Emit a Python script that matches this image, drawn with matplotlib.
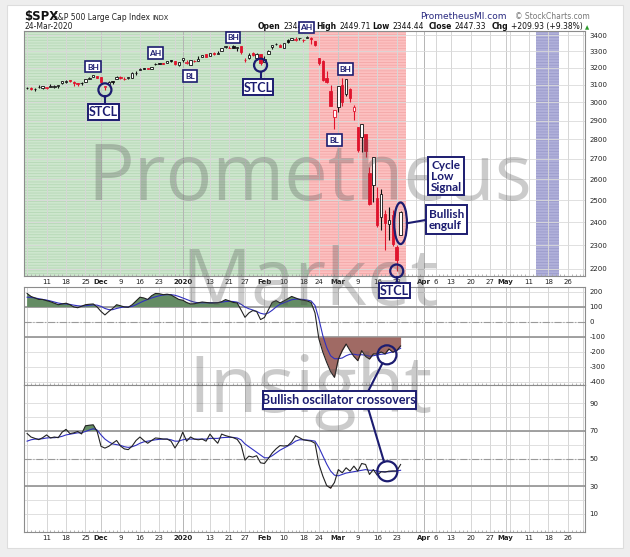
import matplotlib
matplotlib.use("Agg")
import matplotlib.pyplot as plt
import numpy as np
import pandas as pd
from matplotlib.patches import Rectangle, Ellipse
from matplotlib.ticker import NullLocator

# ---------------- data ----------------
holidays = ['2019-11-28', '2019-12-25', '2020-01-01', '2020-01-20',
            '2020-02-17', '2020-04-10', '2020-05-25']
first_day = '2019-11-04'
prev_close0 = 3066.91

opens = [3078.96, 3080.80, 3075.10, 3087.02, 3081.25,
         3080.33, 3089.28, 3084.18, 3090.75, 3107.92,
         3117.91, 3127.45, 3114.66, 3108.49, 3111.41,
         3117.44, 3134.85, 3145.49, 3147.18,
         3143.85, 3087.41, 3103.50, 3119.21, 3134.62,
         3141.86, 3135.36, 3135.75, 3141.23, 3166.65,
         3183.63, 3195.40, 3195.21, 3192.32, 3223.33,
         3226.05, 3225.45, 3227.20, 3247.23,
         3240.09, 3215.18, 3244.67, 3226.36,
         3217.55, 3241.86, 3238.59, 3266.03, 3281.81,
         3271.13, 3285.35, 3282.27, 3302.97, 3323.66,
         3321.03, 3330.02, 3315.77, 3333.10,
         3247.16, 3255.35, 3289.46, 3256.45, 3282.33,
         3235.66, 3280.61, 3324.91, 3344.92, 3335.54,
         3318.28, 3365.87, 3370.50, 3365.90, 3378.08,
         3369.04, 3380.39, 3380.45, 3360.50,
         3257.61, 3238.94, 3139.90, 3062.54, 2916.90,
         2974.28, 3096.46, 3045.75, 3075.70, 2954.20,
         2863.89, 2813.48, 2825.60, 2630.86, 2569.99,
         2508.59, 2425.66, 2436.50, 2393.48, 2431.94,
         2290.71, 2344.44]
highs = [3085.20, 3083.95, 3078.34, 3097.77, 3093.09,
         3088.33, 3102.61, 3098.06, 3098.20, 3120.46,
         3124.17, 3127.64, 3118.97, 3110.11, 3112.87,
         3133.83, 3142.69, 3154.26, 3150.30,
         3144.31, 3094.97, 3119.38, 3119.45, 3150.60,
         3148.87, 3142.12, 3143.98, 3176.28, 3182.68,
         3197.71, 3198.22, 3198.48, 3205.48, 3225.65,
         3227.78, 3226.43, 3240.08, 3247.93,
         3240.92, 3231.72, 3258.14, 3246.15,
         3246.84, 3244.91, 3267.07, 3275.58, 3282.99,
         3288.13, 3294.25, 3298.66, 3317.11, 3329.88,
         3329.79, 3337.77, 3326.88, 3333.18,
         3258.85, 3285.78, 3293.47, 3285.91, 3282.33,
         3268.44, 3306.92, 3337.58, 3347.96, 3341.42,
         3352.26, 3375.63, 3381.47, 3385.09, 3380.69,
         3375.01, 3393.52, 3389.15, 3360.76,
         3259.81, 3246.99, 3182.51, 3097.07, 2959.72,
         3090.96, 3136.72, 3130.97, 3083.04, 2985.93,
         2863.89, 2882.59, 2825.60, 2660.95, 2711.33,
         2562.98, 2553.93, 2453.57, 2466.97, 2453.01,
         2300.73, 2449.71]
lows = [3074.87, 3072.15, 3065.89, 3080.23, 3073.58,
        3075.82, 3084.73, 3078.80, 3083.26, 3104.60,
        3112.06, 3113.47, 3091.41, 3094.55, 3099.26,
        3117.44, 3131.00, 3143.41, 3139.34,
        3110.78, 3070.33, 3102.53, 3103.76, 3134.62,
        3135.46, 3126.09, 3133.21, 3138.47, 3156.51,
        3183.63, 3191.03, 3191.14, 3192.32, 3216.03,
        3222.30, 3220.51, 3227.20, 3234.37,
        3216.57, 3212.03, 3235.53, 3222.34,
        3214.64, 3232.43, 3236.67, 3263.67, 3260.86,
        3268.43, 3277.19, 3280.69, 3302.82, 3318.86,
        3316.61, 3320.04, 3301.87, 3281.53,
        3234.50, 3253.22, 3271.89, 3242.80, 3214.68,
        3235.66, 3280.61, 3313.75, 3334.39, 3322.12,
        3317.77, 3352.72, 3369.72, 3360.52, 3366.15,
        3355.61, 3378.83, 3341.02, 3328.45,
        3214.65, 3118.77, 3108.99, 2977.39, 2855.84,
        2945.19, 2976.63, 3034.38, 2999.83, 2901.54,
        2734.43, 2734.00, 2707.22, 2478.86, 2492.37,
        2380.94, 2367.04, 2280.52, 2319.78, 2295.56,
        2191.86, 2344.44]
closes = [3078.27, 3074.62, 3076.78, 3085.18, 3093.08,
          3087.01, 3091.84, 3094.04, 3096.63, 3120.46,
          3122.03, 3120.18, 3108.46, 3103.54, 3110.29,
          3133.64, 3140.52, 3153.63, 3140.98,
          3113.87, 3093.20, 3112.76, 3117.43, 3145.91,
          3135.96, 3132.52, 3141.63, 3168.57, 3168.80,
          3191.45, 3192.52, 3191.14, 3205.37, 3221.22,
          3224.01, 3223.38, 3239.91, 3240.02,
          3221.29, 3230.78, 3257.85, 3234.85,
          3246.28, 3237.18, 3253.05, 3274.70, 3265.35,
          3288.13, 3283.15, 3289.29, 3316.81, 3329.62,
          3320.79, 3321.75, 3325.54, 3295.47,
          3243.63, 3276.24, 3273.40, 3283.66, 3225.52,
          3248.92, 3297.59, 3334.69, 3345.78, 3327.71,
          3352.09, 3357.75, 3379.45, 3373.94, 3380.16,
          3370.29, 3386.15, 3373.23, 3337.75,
          3225.89, 3128.21, 3116.39, 2978.76, 2954.22,
          3090.23, 3003.37, 3130.12, 3023.94, 2972.37,
          2746.56, 2882.23, 2741.38, 2480.64, 2711.02,
          2386.13, 2529.19, 2398.10, 2409.39, 2304.92,
          2237.40, 2447.33]

cci = [190, 170, 160, 150, 150, 142, 135, 125, 115, 120,
       125, 115, 100, 95, 105, 115, 118, 120, 100, 70,
       47, 70, 90, 115, 108, 100, 98, 115, 140, 165,
       160, 150, 175, 190, 188, 182, 185, 180, 165, 150,
       145, 130, 120, 122, 128, 133, 130, 127, 127, 128,
       135, 149, 140, 130, 127, 80, 31, 60, 76, 70,
       16, 30, 80, 131, 142, 127, 140, 155, 170, 160,
       150, 145, 140, 130, 60, -113, -200, -269, -330, -369,
       -247, -190, -147, -191, -230, -258, -191, -230, -247, -213,
       -213, -200, -213, -180, -202, -190, -160]
cci_sig = [165, 164, 160, 155, 150, 146, 140, 133, 126, 122,
           120, 117, 112, 108, 106, 108, 111, 114, 112, 104,
           90, 82, 82, 90, 96, 100, 100, 104, 115, 128,
           140, 150, 160, 168, 175, 180, 182, 182, 178, 170,
           160, 150, 140, 132, 128, 128, 128, 128, 128, 129,
           132, 136, 138, 136, 132, 118, 100, 88, 80, 70,
           58, 52, 60, 78, 100, 118, 128, 138, 148, 152,
           152, 150, 146, 140, 110, 20, -90, -170, -225, -245,
           -245, -240, -225, -215, -215, -220, -218, -222, -228, -225,
           -220, -215, -213, -205, -200, -190, -175]

rsi = [68, 65.5, 64.5, 63.6, 65, 67, 64.8, 65.5, 65, 69,
       71, 68, 68.5, 69.5, 67.7, 73.6, 74, 74.3, 69.5, 58.8,
       57.5, 58.8, 61, 63, 59, 56.9, 56.4, 59, 63, 65.5,
       63, 61, 63, 64.8, 64.5, 64, 64, 62.5, 57.6, 62,
       69, 62.5, 65.5, 64, 63.5, 64, 62.5, 67.6, 64, 61,
       67.6, 66.5, 65.7, 65, 63.8, 59.8, 48.8, 51.7, 51, 52,
       46.9, 46.4, 50, 54, 57, 59.3, 59, 59.3, 62, 66.4,
       65, 63.5, 63, 62.5, 61, 46, 37.4, 30.5, 28.6, 32.7,
       42, 39.7, 43.3, 40.9, 44.5, 40.9, 46.4, 45.7, 38.5, 42,
       37.9, 40.5, 40.2, 40.9, 41, 40.9, 45.7]
rsi_sig = [62.5, 63.5, 64, 64, 64.3, 64.8, 65, 65, 65.3, 66,
           67, 67.5, 68, 68.5, 68.5, 69.5, 70.5, 71.5, 70.5, 67,
           64, 62, 60.5, 60, 59.5, 58.5, 58, 58.5, 59.5, 61,
           62, 62.5, 63, 63.5, 63.8, 64, 64, 63.5, 62.5, 62.5,
           63.5, 64, 64, 64, 64, 64, 64, 64.5, 64.5, 64.5,
           65, 65.2, 65.3, 65.2, 64.8, 63.5, 60.5, 58.5, 56.5, 54.5,
           52.5, 50.5, 50.5, 52, 54, 56, 57.5, 59, 60.5, 62.5,
           63.5, 63.5, 63.3, 63, 62.5, 58, 52, 46, 41, 38,
           37.5, 38.5, 39.5, 40, 40.5, 41, 41.5, 42, 41.5, 41.5,
           41, 40.5, 40.5, 40.5, 40.8, 41, 41.5]

price_ticks = [2200, 2300, 2400, 2500, 2600, 2700, 2800, 2900, 3000,
               3100, 3200, 3300, 3400]
cci_ticks = [200, 100, 0, -100, -200, -300, -400]
rsi_ticks = [90, 70, 50, 30, 10]

tick_dates = ['2019-11-11', '2019-11-18', '2019-11-25', '2019-12-02', '2019-12-09',
              '2019-12-16', '2019-12-23', '2020-01-02', '2020-01-13', '2020-01-21',
              '2020-01-27', '2020-02-03', '2020-02-10', '2020-02-18', '2020-02-24',
              '2020-03-02', '2020-03-09', '2020-03-16', '2020-03-23', '2020-04-01',
              '2020-04-06', '2020-04-13', '2020-04-20', '2020-04-27', '2020-05-01',
              '2020-05-11', '2020-05-18', '2020-05-26']
tick_labels = ['11', '18', '25', 'Dec', '9', '16', '23', '2020', '13', '21', '27',
               'Feb', '10', '18', '24', 'Mar', '9', '16', '23', 'Apr', '6', '13',
               '20', '27', 'May', '11', '18', '26']
bold_labels = ['Dec', '2020', 'Feb', 'Mar', 'Apr', 'May']
extra_grid = ['2019-11-04', '2019-12-30', '2020-01-06', '2020-03-30', '2020-05-04',
              '2020-06-01']

# ---------------- layout ----------------
W, H = 630, 557
NAVY = '#1c1c70'
RED = '#e0142d'
plt.rcParams['hatch.linewidth'] = 0.6
plt.rcParams['axes.unicode_minus'] = False

days = pd.bdate_range(first_day, '2020-06-12', freq='C', holidays=holidays)
def di(d):
    return days.get_loc(pd.Timestamp(d))

x = np.arange(len(closes))
XMIN, XMAX = -0.8, 143.4

fig = plt.figure(figsize=(W / 100, H / 100), dpi=100)
fig.patch.set_facecolor('#eeeeee')
fig.add_artist(Rectangle((7 / W, 1 - 548 / H), 616 / W, 543 / H, transform=fig.transFigure,
                         fc='white', ec='#dddddd', lw=0.8, zorder=-1))

def axes_px(top, bottom):
    return fig.add_axes([24 / W, 1 - bottom / H, 561 / W, (bottom - top) / H])

ax = axes_px(31, 276)
ax_cci = axes_px(287, 385)
ax_rsi = axes_px(385, 532)

def style(a, hlines):
    a.set_xlim(XMIN, XMAX)
    for s in a.spines.values():
        s.set_color('#8c8c8c')
        s.set_linewidth(0.8)
    a.yaxis.tick_right()
    a.tick_params(axis='y', length=0, pad=3, labelsize=5, labelcolor='#222222')
    a.tick_params(axis='x', length=0, pad=2.5, labelsize=5, labelcolor='#222222')
    a.set_xticks(range(0, 144), minor=True)
    a.tick_params(axis='x', which='minor', length=1.5, direction='in', color='#aaaaaa')
    for d in tick_dates + extra_grid:
        lbl = tick_labels[tick_dates.index(d)] if d in tick_dates else ''
        c = '#d6d6d6'
        if lbl in bold_labels:
            c = '#b4b4b4' if lbl in ('2020', 'Apr') else '#c8c8c8'
        a.axvline(di(d), color=c, lw=0.7, zorder=0.5)
    for v in hlines:
        a.axhline(v, color='#dadada', lw=0.6, zorder=0.5)

# ---- price panel ----
ax.set_yscale('log')
ax.set_ylim(2171.5, 3425.4)
style(ax, price_ticks)
ax.set_yticks(price_ticks)
ax.set_yticklabels([str(v) for v in price_ticks])
ax.yaxis.set_minor_locator(NullLocator())

ax.axvspan(XMIN, di('2020-02-19') + 0.5, facecolor='#cde6cd', edgecolor='#b6d8b6',
           hatch='------', lw=0, zorder=0.2)
ax.axvspan(di('2020-02-19') + 0.5, di('2020-03-24') + 1.4, facecolor='#fcc0c0',
           edgecolor='#f4a8a8', hatch='------', lw=0, zorder=0.2)
ax.axvspan(di('2020-05-13') - 0.2, di('2020-05-20') + 0.7, facecolor='#b0b0da',
           edgecolor='#9c9ccc', hatch='------', lw=0, zorder=0.2)

o = np.array(opens); hi = np.array(highs); lo = np.array(lows); c = np.array(closes)
prev = np.concatenate([[prev_close0], c[:-1]])
cols = [RED if c[i] < prev[i] else '#111111' for i in x]
faces = [cols[i] if c[i] < o[i] else 'white' for i in x]
ax.vlines(x, lo, hi, colors=cols, lw=0.8, zorder=3)
ax.bar(x, np.abs(c - o) + 0.3, bottom=np.minimum(o, c), width=0.62, color=faces,
       edgecolor=cols, lw=0.6, zorder=4)

ax.set_xticks([di(d) for d in tick_dates])
ax.set_xticklabels(tick_labels)

# ---- CCI panel ----
ax_cci.set_ylim(-420, 233)
style(ax_cci, cci_ticks)
ax_cci.set_yticks(cci_ticks)
ax_cci.set_xticks([di(d) for d in tick_dates])
ax_cci.tick_params(axis='x', labelbottom=False)
ax_cci.axhline(100, color='#9a9a9a', lw=1.3, zorder=1)
ax_cci.axhline(-100, color='#9a9a9a', lw=1.3, zorder=1)
ax_cci.axhline(0, color='#9a9a9a', lw=0.8, ls='-.', zorder=1)
cc = np.array(cci, dtype=float)
ax_cci.fill_between(x, cc, 100, where=cc > 100, interpolate=True, color='#648c64', lw=0, zorder=1.5)
ax_cci.fill_between(x, cc, -100, where=cc < -100, interpolate=True, color='#a06a64', lw=0, zorder=1.5)
ax_cci.plot(x, cci_sig, color='#3030c0', lw=0.8, zorder=2)
ax_cci.plot(x, cci, color='#222222', lw=0.8, zorder=2.5)

# ---- RSI panel ----
ax_rsi.set_ylim(-3, 103)
style(ax_rsi, range(10, 100, 10))
ax_rsi.set_yticks(rsi_ticks)
ax_rsi.axhline(70, color='#9a9a9a', lw=1.3, zorder=1)
ax_rsi.axhline(30, color='#9a9a9a', lw=1.3, zorder=1)
ax_rsi.axhline(50, color='#9a9a9a', lw=0.8, ls='-.', zorder=1)
rr = np.array(rsi, dtype=float)
ax_rsi.fill_between(x, rr, 70, where=rr > 70, interpolate=True, color='#648c64', lw=0, zorder=1.5)
ax_rsi.fill_between(x, rr, 30, where=rr < 30, interpolate=True, color='#a06a64', lw=0, zorder=1.5)
ax_rsi.plot(x, rsi_sig, color='#3030c0', lw=0.8, zorder=2)
ax_rsi.plot(x, rsi, color='#222222', lw=0.8, zorder=2.5)
ax_rsi.set_xticks([di(d) for d in tick_dates])
ax_rsi.set_xticklabels(tick_labels)

for a in (ax, ax_rsi):
    for t in a.get_xticklabels():
        if t.get_text() in bold_labels:
            t.set_fontweight('bold')

# ---- header ----
def ftext(px_x, px_y, s, **kw):
    return fig.text(px_x / W, 1 - px_y / H, s, va='baseline', **kw)

ftext(24, 20, '$SPX', fontsize=8.5, fontweight='bold', color='#111111')
ftext(53, 20, 'S&P 500 Large Cap Index', fontsize=5.5, color='#222222')
ftext(152, 20, 'INDX', fontsize=4.8, color='#222222')
ftext(24, 29, '24-Mar-2020', fontsize=5.5, color='#222222')
ftext(420, 19, 'PrometheusMI.com', fontsize=6.5, color='#2a2a80')
ftext(515, 19, '\u00a9 StockCharts.com', fontsize=5.5, color='#777777')

chg = closes[-1] - closes[-2]
stats = [('Open', '%.2f' % opens[-1], 258), ('High', '%.2f' % highs[-1], 316.5),
         ('Low', '%.2f' % lows[-1], 372.5), ('Close', '%.2f' % closes[-1], 429),
         ('Chg', '+%.2f (+%.2f%%)' % (chg, chg / closes[-2] * 100), 491.5)]
renderer = fig.canvas.get_renderer()
for lab, val, px0 in stats:
    t = ftext(px0, 29, lab, fontsize=5.5, fontweight='bold', color='#111111')
    cur = t.get_window_extent(renderer).x1 + 2.5
    t = ftext(cur, 29, val, fontsize=5.5, color='#111111')
end = t.get_window_extent(renderer).x1
ftext(end + 3, 29, '\u25b2', fontsize=4, color='#2a9a2a')

# ---- watermark ----
for s, yb in zip(['Prometheus', 'Market', 'Insight'], [200, 305, 412]):
    fig.text(310 / W, 1 - yb / H, s, fontsize=56, family='Open Sans', color='#555555',
             alpha=0.3, ha='center', va='baseline', zorder=5)

# ---- annotations ----
ov = fig.add_axes([0, 0, 1, 1], zorder=10)
ov.set_xlim(0, W)
ov.set_ylim(H, 0)
ov.axis('off')

def to_px(a, xv, yv):
    d = a.transData.transform((xv, yv))
    return d[0], H - d[1]

def box(x0, y0, x1, y1, s, size, lw=1.4, left=None, ls=1.0):
    ov.add_patch(Rectangle((x0, y0), x1 - x0, y1 - y0, fc='white', ec=NAVY, lw=lw, zorder=3))
    if left is None:
        ov.text((x0 + x1) / 2, (y0 + y1) / 2 + 0.5, s, fontsize=size, color=NAVY,
                fontweight='bold', family='Lato', ha='center', va='center', zorder=4)
    else:
        ov.text(x0 + left, (y0 + y1) / 2 + 0.5, s, fontsize=size, color=NAVY,
                fontweight='bold', family='Lato', ha='left', va='center',
                linespacing=ls, zorder=4)

def circle(cx, cy, r):
    ov.add_patch(Ellipse((cx, cy), 2 * r, 2 * r, fc='none', ec=NAVY, lw=1.6, zorder=3))

def link(p, q):
    ov.plot([p[0], q[0]], [p[1], q[1]], color=NAVY, lw=1.5, zorder=2)

for b in [(85, 61, 100.7, 72, 'BH'), (148, 47, 163, 59, 'AH'), (183, 70, 197, 81.7, 'BL'),
          (225.7, 31.7, 240, 42.7, 'BH'), (299, 21.7, 314, 33, 'AH'),
          (338, 63, 353, 75, 'BH'), (326.7, 134, 341.7, 146, 'BL')]:
    box(*b, size=6, lw=1.2)

for d, bx in [('2019-12-03', (87.7, 104, 119, 120)), ('2020-01-31', (243, 79, 273, 95)),
              ('2020-03-23', (379, 283, 410, 298))]:
    i = di(d)
    cx, cy = to_px(ax, i, lows[i])
    circle(cx, cy, 6.5)
    link((cx, cy + 6.5), (cx, bx[1]))
    box(*bx, 'STCL', 9)

box(427.7, 156.7, 464.3, 195, 'Cycle\nLow\nSignal', 8.5, left=3.5, ls=1.0)

i = di('2020-03-24')
ex, ey = to_px(ax, i, np.sqrt(opens[i] * closes[i]))
ov.add_patch(Ellipse((ex, ey), 12.7, 41.6, fc='none', ec=NAVY, lw=1.6, zorder=3))
link((ex + 6.3, ey), (425.7, 220))
box(425.7, 205, 466.7, 234, 'Bullish\nengulf', 8.5, left=3, ls=1.0)

i = di('2020-03-18')
c1 = to_px(ax_cci, i + 0.5, -219)
c2 = to_px(ax_rsi, i + 0.6, 40.8)
circle(*c1, 9.5)
circle(*c2, 10)
link((c1[0] - 4.5, c1[1] + 8.4), (368.3, 391))
link((368.3, 409), (c2[0] - 3.3, c2[1] - 9.4))
box(262.7, 391, 415.7, 409, 'Bullish oscillator crossovers', 9)

fig.savefig('out.png', dpi=100, facecolor=fig.get_facecolor())
